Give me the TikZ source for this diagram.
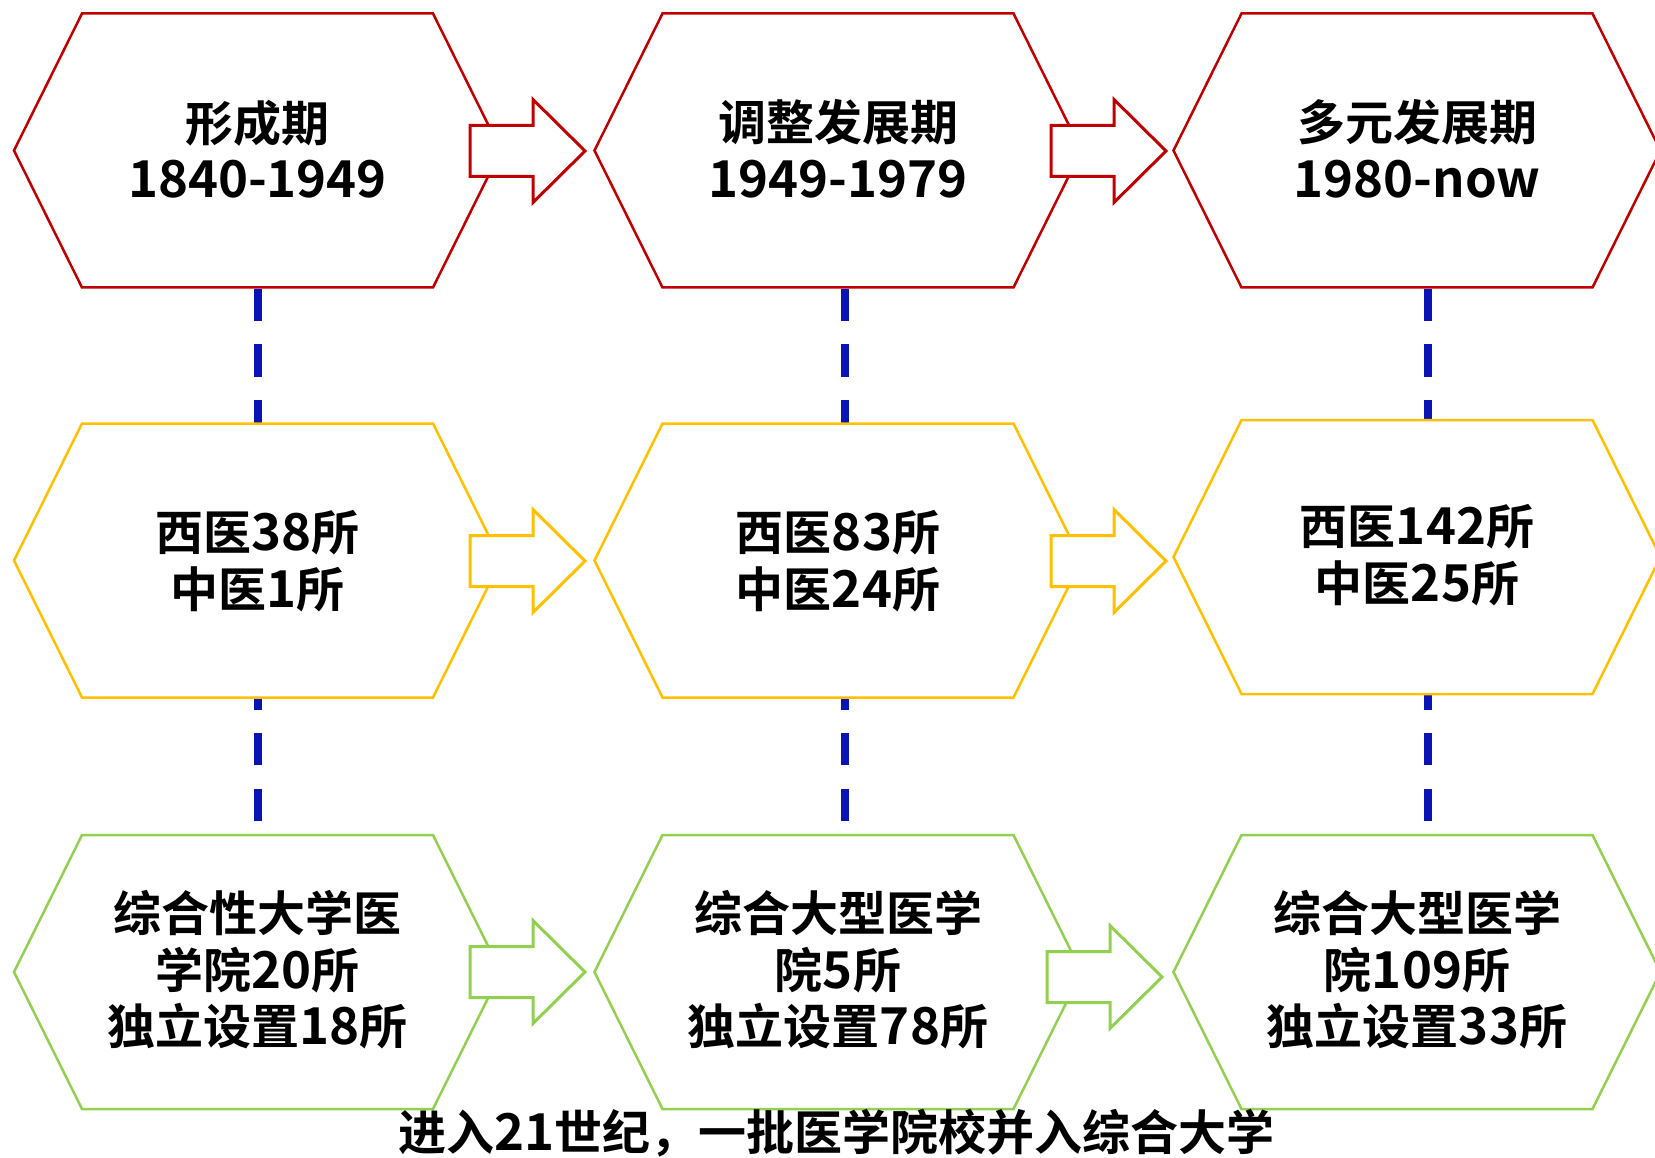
\documentclass[tikz,border=0pt]{standalone}
\usepackage{fontspec}
\newfontfamily\cjk{Noto Sans CJK SC Bold}
\newfontfamily\dgfont{Noto Sans CJK SC Bold}[Scale=1.06]
\newcommand\dg[1]{{\dgfont #1}}
\definecolor{hred}{RGB}{192,0,0}
\definecolor{hyel}{RGB}{255,192,0}
\definecolor{hgrn}{RGB}{146,208,80}
\definecolor{hblue}{RGB}{10,20,180}
\tikzset{
  hexs/.style={line width=2.5pt, fill=white, line join=miter},
  barrowst/.style={line width=3pt, fill=white, line join=miter},
  lbl/.style={font=\cjk\fontsize{48}{56.5}\selectfont, align=center, text=black, inner sep=0pt},
  vlink/.style={draw=hblue, line width=8pt, dash pattern=on 32pt off 23.5pt}
}
\newcommand\hexa[4]{%
  \draw[hexs,draw=#3] (#1-243.5,#2) -- (#1-175.5,#2-137) -- (#1+175.5,#2-137) -- (#1+243.5,#2) -- (#1+175.5,#2+137) -- (#1-175.5,#2+137) -- cycle;
  \coordinate (#4) at (#1,#2);
  \coordinate (#4t) at (#1,#2-137);
  \coordinate (#4b) at (#1,#2+137);
}
\newcommand\barrow[3]{%
  \draw[barrowst,draw=#3] (#1,#2-25.5) -- (#1+63,#2-25.5) -- (#1+63,#2-51.5) -- (#1+115,#2) -- (#1+63,#2+51.5) -- (#1+63,#2+25.5) -- (#1,#2+25.5) -- cycle;
}
\begin{document}
\begin{tikzpicture}[x=1pt,y=-1pt]
\useasboundingbox (0,0) rectangle (1655,1158);
% vertical dashed links
\coordinate (d1a) at (258,289); \coordinate (d1b) at (258,835);
\coordinate (d2a) at (845,289); \coordinate (d2b) at (845,835);
\coordinate (d3a) at (1428,289); \coordinate (d3b) at (1428,835);
\draw[vlink] (d1a) -- (d1b);
\draw[vlink] (d2a) -- (d2b);
\draw[vlink] (d3a) -- (d3b);
% hexagons
\hexa{257.5}{150.5}{hred}{h11}
\hexa{838}{150.5}{hred}{h12}
\hexa{1417}{150.5}{hred}{h13}
\hexa{257.5}{560.5}{hyel}{h21}
\hexa{838}{560.5}{hyel}{h22}
\hexa{1417}{557}{hyel}{h23}
\hexa{257.5}{972}{hgrn}{h31}
\hexa{838}{972}{hgrn}{h32}
\hexa{1417}{972}{hgrn}{h33}
% block arrows
\barrow{470}{151}{hred}
\barrow{1051}{151}{hred}
\barrow{470}{561}{hyel}
\barrow{1051}{561}{hyel}
\barrow{470}{972}{hgrn}
\barrow{1047}{977}{hgrn}
% labels
\node[lbl] (t11) at (257.5,149) {形成期\\\dg{1840-1949}};
\node[lbl] (t12) at (838,149) {调整发展期\\\dg{1949-1979}};
\node[lbl] (t13) at (1417,149) {多元发展期\\\dg{1980-now}};
\node[lbl] (t21) at (257.5,561) {西医\dg{38}所\\中医\dg{1}所};
\node[lbl] (t22) at (838,561) {西医\dg{83}所\\中医\dg{24}所};
\node[lbl] (t23) at (1417,555) {西医\dg{142}所\\中医\dg{25}所};
\node[lbl] (t31) at (257.5,970) {综合性大学医\\学院\dg{20}所\\独立设置\dg{18}所};
\node[lbl] (t32) at (838,970) {综合大型医学\\院\dg{5}所\\独立设置\dg{78}所};
\node[lbl] (t33) at (1417,970) {综合大型医学\\院\dg{109}所\\独立设置\dg{33}所};
\node[lbl] (bot) at (836.5,1133) {进入\dg{21}世纪，一批医学院校并入综合大学};
\end{tikzpicture}
\end{document}
